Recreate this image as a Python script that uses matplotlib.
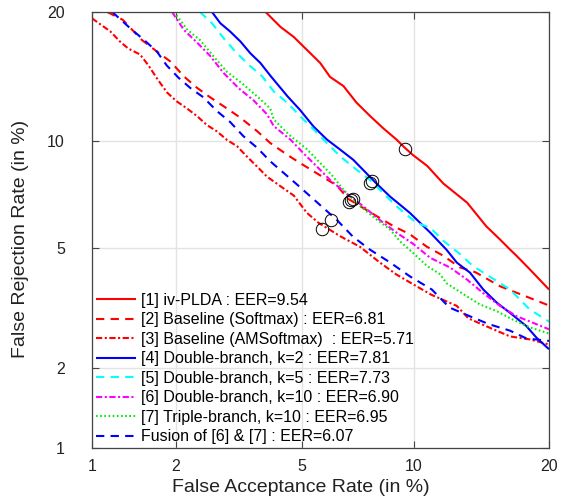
import numpy as np
import matplotlib
matplotlib.use('Agg')
import matplotlib.pyplot as plt
from matplotlib.ticker import FixedLocator, FixedFormatter, NullLocator
from statistics import NormalDist

plt.rcParams['font.family'] = ['Liberation Sans', 'DejaVu Sans']

# DET curves: false acceptance (%) vs false rejection (%)
fa1 = [3.9, 4.33, 4.74, 5.17, 5.65, 6.02, 6.56, 7.12, 7.73, 8.37, 9.06, 9.46, 9.96, 10.8, 11.8, 13.4, 14.8, 15.85, 16.65, 17.2, 18.3, 20.0]
fr1 = [20.0, 18.6, 17.7, 16.6, 15.5, 14.4, 13.7, 12.5, 11.6, 10.8, 10.1, 9.66, 9.2, 8.6, 7.7, 6.8, 5.8, 5.3, 4.94, 4.72, 4.29, 3.7]

fa2 = [1.14, 1.3, 1.52, 1.73, 1.92, 2.13, 2.36, 2.6, 2.95, 3.26, 3.68, 4.03, 4.54, 4.94, 5.54, 6.29, 6.76, 8.03, 8.9, 9.78, 10.78, 11.8, 12.9, 14.0, 15.85, 18.0, 20.0]
fr2 = [20.0, 19.26, 17.45, 16.4, 15.6, 14.43, 13.56, 12.89, 12.1, 11.47, 10.6, 9.89, 9.2, 8.76, 8.2, 7.6, 6.97, 6.23, 5.81, 5.5, 5.04, 4.73, 4.35, 4.2, 3.79, 3.51, 3.28]

fa3 = [1.0, 1.17, 1.27, 1.36, 1.5, 1.61, 1.73, 1.87, 2.01, 2.18, 2.36, 2.54, 2.74, 2.95, 3.18, 3.42, 3.68, 3.94, 4.33, 4.74, 5.17, 5.58, 6.43, 7.27, 8.2, 9.06, 10.17, 11.04, 12.69, 13.5, 15.0, 16.65, 18.31, 20.0]
fr3 = [19.4, 18.2, 17.3, 16.7, 16.2, 15.27, 14.2, 13.2, 12.6, 12.1, 11.57, 11.0, 10.6, 10.08, 9.7, 9.1, 8.55, 8.04, 7.56, 7.12, 6.36, 5.95, 5.42, 5.04, 4.51, 4.13, 3.79, 3.56, 3.27, 2.97, 2.77, 2.58, 2.52, 2.42]

fa4 = [2.64, 2.81, 3.02, 3.26, 3.5, 3.76, 4.03, 4.54, 4.94, 5.41, 5.9, 6.43, 6.97, 7.58, 8.04, 8.72, 9.78, 10.98, 12.0, 12.7, 13.6, 14.57, 15.6, 16.65, 18.0, 18.9, 20.0]
fr4 = [20.0, 18.95, 18.2, 17.3, 16.3, 15.5, 14.5, 12.95, 12.0, 10.9, 10.1, 9.5, 8.94, 8.2, 7.7, 7.08, 6.36, 5.56, 4.94, 4.5, 4.19, 3.7, 3.35, 3.1, 2.8, 2.55, 2.33]

fa5 = [2.41, 2.64, 2.88, 3.14, 3.46, 3.81, 4.13, 4.54, 5.0, 5.41, 5.9, 6.43, 7.12, 7.73, 9.06, 10.17, 10.98, 11.83, 12.8, 13.8, 15.0, 16.65, 18.3, 20.0]
fr5 = [20.0, 18.95, 17.6, 16.44, 15.35, 14.43, 13.3, 12.48, 11.47, 10.72, 9.89, 9.12, 8.4, 7.88, 6.64, 5.94, 5.75, 5.24, 4.83, 4.4, 4.08, 3.7, 3.18, 2.9]

fa6 = [1.94, 2.13, 2.36, 2.6, 2.88, 3.22, 3.59, 3.94, 4.13, 4.64, 5.05, 5.54, 6.02, 6.84, 7.42, 8.2, 9.06, 9.96, 10.98, 12.23, 13.4, 14.57, 15.85, 17.2, 18.31, 20.0]
fr6 = [20.0, 18.33, 17.2, 16.1, 14.7, 13.53, 12.64, 11.7, 10.93, 10.08, 9.31, 8.55, 7.88, 7.08, 6.64, 6.06, 5.56, 5.15, 4.66, 4.35, 3.98, 3.6, 3.27, 3.02, 2.9, 2.73]

fa7 = [1.97, 2.19, 2.41, 2.68, 2.95, 3.3, 3.68, 4.03, 4.13, 4.64, 5.17, 5.65, 6.09, 6.56, 7.12, 7.88, 8.72, 9.24, 9.96, 10.78, 11.6, 12.0, 13.2, 14.3, 15.6, 16.9, 18.31, 20.0]
fr7 = [20.0, 18.33, 17.44, 16.0, 14.8, 13.9, 12.93, 12.1, 11.35, 10.3, 9.54, 8.76, 8.12, 7.4, 6.79, 6.19, 5.68, 5.24, 4.83, 4.4, 4.14, 3.88, 3.56, 3.31, 3.14, 2.94, 2.77, 2.64]

fa8 = [1.19, 1.38, 1.55, 1.72, 1.86, 2.04, 2.24, 2.47, 2.74, 3.02, 3.33, 3.68, 4.03, 4.43, 4.85, 5.29, 6.29, 6.97, 7.73, 8.72, 9.78, 11.08, 12.2, 13.6, 15.0, 16.65, 18.0, 20.0]
fr8 = [20.0, 18.5, 17.44, 16.44, 15.3, 14.34, 13.55, 12.89, 11.92, 11.2, 10.3, 9.6, 8.85, 8.22, 7.64, 7.09, 6.06, 5.4, 4.94, 4.51, 4.08, 3.7, 3.23, 3.02, 2.84, 2.7, 2.54, 2.49]

eers = [9.54, 6.81, 5.71, 7.81, 7.73, 6.90, 6.95, 6.07]
names = ['[1] iv-PLDA', '[2] Baseline (Softmax)', '[3] Baseline (AMSoftmax) ',
         '[4] Double-branch, k=2', '[5] Double-branch, k=5', '[6] Double-branch, k=10',
         '[7] Triple-branch, k=10', 'Fusion of [6] & [7]']
ticks = [1, 2, 5, 10, 20]

# normal-deviate (probit) axes, as on a DET plot
nd = NormalDist()
def fwd(p):
    p = np.clip(np.asarray(p, dtype=float) / 100.0, 1e-9, 1 - 1e-9)
    return np.vectorize(nd.inv_cdf, otypes=[float])(p)
def inv(z):
    return np.vectorize(nd.cdf, otypes=[float])(np.asarray(z, dtype=float)) * 100.0

fig = plt.figure(figsize=(5.62, 4.99), dpi=100)
ax = fig.add_axes([92/562, 1-448/499, (549-92)/562, (448-12)/499])
ax.set_xscale('function', functions=(fwd, inv))
ax.set_yscale('function', functions=(fwd, inv))

curves = [(fa1, fr1), (fa2, fr2), (fa3, fr3), (fa4, fr4), (fa5, fr5), (fa6, fr6), (fa7, fr7), (fa8, fr8)]
colors = ['#ff0000', '#ff0000', '#ff0000', '#0000ff', '#00ffff', '#ff00ff', '#00ee00', '#0000ff']
styles = [(0, ()), (0, (4, 3)), (0, (3, 1.2, 1, 1.2)), (0, ()), (0, (4, 3)),
          (0, (3, 1.2, 1, 1.2)), (0, (0.8, 1.2)), (0, (4, 3))]

for (fa, fr), c, ls, nm, e in zip(curves, colors, styles, names, eers):
    ax.plot(fa, fr, color=c, ls=ls, lw=1.5, label='%s : EER=%.2f' % (nm, e))
for e in eers:
    ax.plot(e, e, 'o', mfc='none', mec='k', ms=9, mew=0.7)

ax.set_xlim(1, 20)
ax.set_ylim(1, 20)
for a in (ax.xaxis, ax.yaxis):
    a.set_major_locator(FixedLocator(ticks))
    a.set_major_formatter(FixedFormatter([str(t) for t in ticks]))
    a.set_minor_locator(NullLocator())
ax.tick_params(direction='in', length=5, width=0.8, color='#444444', labelsize=11.5,
               labelcolor='#222222', top=True, right=True)
ax.tick_params(axis='x', pad=8)
ax.tick_params(axis='y', pad=19.5)
ax.grid(True, color='#e3e3e3', lw=1)
ax.set_axisbelow(True)
for s in ax.spines.values():
    s.set_color('#444444')
    s.set_linewidth(0.9)

ax.set_xlabel('False Acceptance Rate (in %)', fontsize=14, color='#222222')
ax.set_ylabel('False Rejection Rate (in %)', fontsize=14, color='#222222')
ax.xaxis.set_label_coords(0.457, -0.071)
ax.yaxis.set_label_coords(-0.138, 0.48)

ax.legend(loc='lower left', bbox_to_anchor=(0.0, 0.0), frameon=False, fontsize=11.5,
          handlelength=2.5, handletextpad=0.3, labelspacing=0.28, borderpad=0.12,
          borderaxespad=0.12)

plt.savefig('out.png', dpi=100)
